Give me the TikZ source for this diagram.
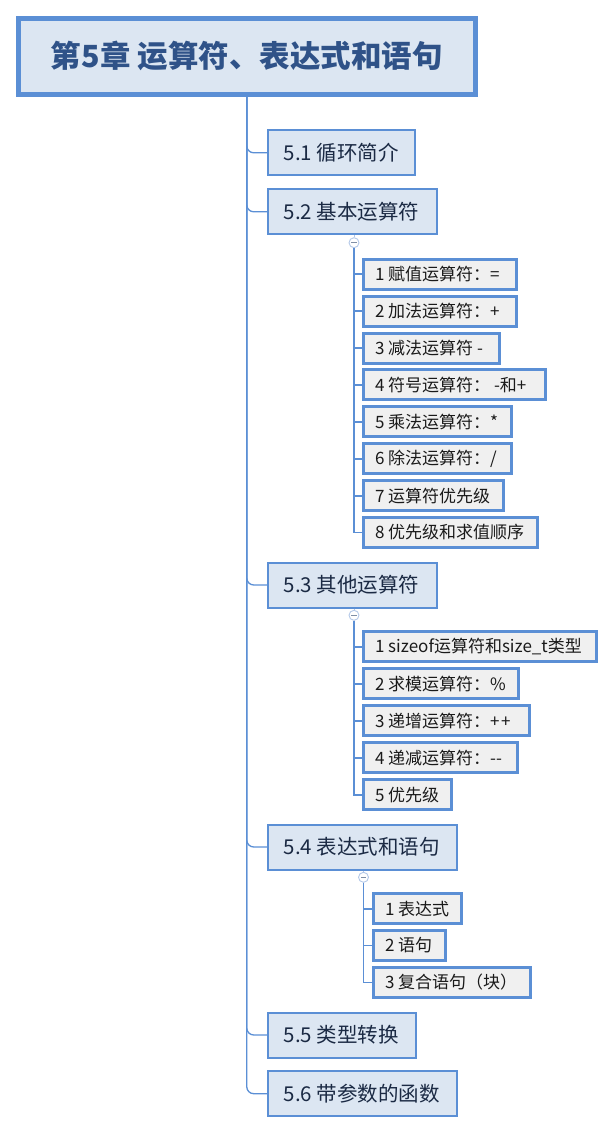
\documentclass[tikz,border=0pt]{standalone}
\usepackage{fontspec}
\setmainfont{Noto Sans CJK SC}
\definecolor{bord}{HTML}{5B8FD5}
\definecolor{fillone}{HTML}{DCE6F2}
\definecolor{filltwo}{HTML}{F0F0F0}
\definecolor{roottxt}{HTML}{2F5288}
\definecolor{txtone}{HTML}{1B2A44}
\definecolor{txttwo}{HTML}{1A1A1A}
\definecolor{ringc}{HTML}{B3C8E8}
\definecolor{minusc}{HTML}{7F8FA6}
\newcommand\lbx[2]{\makebox[#1pt][l]{#2}}
\begin{document}
\begin{tikzpicture}[x=1pt,y=-1pt,
  rootbox/.style={draw=bord, line width=5pt, fill=fillone, minimum width=456.5pt, minimum height=75.7pt, inner sep=0pt, text=roottxt, font=\fontsize{30.5}{36}\selectfont\bfseries},
  lone/.style={draw=bord, line width=2pt, fill=fillone, minimum height=45pt, inner xsep=15.5pt, inner ysep=0pt, anchor=west, text=txtone, font=\fontsize{20.5}{24}\selectfont},
  ltwo/.style={draw=bord, line width=3pt, fill=filltwo, minimum height=30pt, inner xsep=11.2pt, inner ysep=0pt, anchor=west, text=txttwo, font=\fontsize{17}{20}\selectfont},
  trunk/.style={draw=bord, line width=1.3pt, rounded corners=7pt},
  subline/.style={draw=bord, line width=1.8pt},
  stem/.style={draw=ringc, line width=1pt},
  ring/.style={circle, draw=ringc, fill=white, line width=0.9pt, minimum size=10pt, inner sep=0pt},
  minus/.style={draw=minusc, line width=0.9pt}
]
\useasboundingbox (0,0) rectangle (614,1134);

\node[rootbox] (root) at (246.75,56.35) {第5章 运算符、表达式和语句};

% level 1
\node[lone] (c1) at (267.3,152.8) {\lbx{115.7}{5.1 循环简介}};
\node[lone] (c2) at (267.3,211.8) {\lbx{137.4}{5.2 基本运算符}};
\node[lone] (c3) at (267.3,585) {\lbx{137.4}{5.3 其他运算符}};
\node[lone] (c4) at (267.3,847) {\lbx{158}{5.4 表达式和语句}};
\node[lone] (c5) at (267.3,1035) {\lbx{116.4}{5.5 类型转换}};
\node[lone] (c6) at (267.3,1093.7) {\lbx{158}{5.6 带参数的函数}};

\foreach \c in {c1,c2,c3,c4,c5,c6}{
  \draw[trunk] (root.south) |- (\c.west);
}

% 5.2 children
\node[ltwo] (a1) at (362.3,274.2) {\lbx{130}{1 赋值运算符：=}};
\node[ltwo] (a2) at (362.3,311.1) {\lbx{130}{2 加法运算符：+}};
\node[ltwo] (a3) at (362.3,348.0) {\lbx{113}{3 减法运算符 -}};
\node[ltwo] (a4) at (362.3,384.9) {\lbx{159}{4 符号运算符： -和+}};
\node[ltwo] (a5) at (362.3,421.8) {\lbx{125}{5 乘法运算符：*}};
\node[ltwo] (a6) at (362.3,458.7) {\lbx{125}{6 除法运算符：/}};
\node[ltwo] (a7) at (362.3,495.6) {\lbx{117.3}{7 运算符优先级}};
\node[ltwo] (a8) at (362.3,532.5) {\lbx{151.3}{8 优先级和求值顺序}};

\node[ring] (k2) at (354,242.7) {};
\draw[stem] (c2.south -| k2.north) -- (k2.north);
\foreach \a in {a1,a2,a3,a4,a5,a6,a7,a8}{
  \draw[subline] (k2.south) |- (\a.west);
}
\draw[minus] ([xshift=-2.6pt]k2.center) -- ([xshift=2.6pt]k2.center);

% 5.3 children
\node[ltwo] (b1) at (362.3,646.8) {\lbx{210}{1 sizeof运算符和size\_t类型}};
\node[ltwo] (b2) at (362.3,683.8) {\lbx{132.6}{2 求模运算符：\%}};
\node[ltwo] (b3) at (362.3,720.8) {\lbx{143}{3 递增运算符：+\kern1.5pt+}};
\node[ltwo] (b4) at (362.3,757.8) {\lbx{131.6}{4 递减运算符：-{}-}};
\node[ltwo] (b5) at (362.3,794.8) {\lbx{65.6}{5 优先级}};

\node[ring] (k3) at (354,615.3) {};
\draw[stem] (c3.south -| k3.north) -- (k3.north);
\foreach \b in {b1,b2,b3,b4,b5}{
  \draw[subline] (k3.south) |- (\b.west);
}
\draw[minus] ([xshift=-2.6pt]k3.center) -- ([xshift=2.6pt]k3.center);

% 5.4 children
\node[ltwo] (d1) at (372.3,908.8) {\lbx{65.6}{1 表达式}};
\node[ltwo] (d2) at (372.3,945.5) {\lbx{49}{2 语句}};
\node[ltwo] (d3) at (372.3,982.5) {\lbx{134}{3 复合语句（块）}};

\node[ring] (k4) at (363.5,877.3) {};
\draw[stem] (c4.south -| k4.north) -- (k4.north);
\foreach \d in {d1,d2,d3}{
  \draw[subline] (k4.south) |- (\d.west);
}
\draw[minus] ([xshift=-2.6pt]k4.center) -- ([xshift=2.6pt]k4.center);

\end{tikzpicture}
\end{document}
